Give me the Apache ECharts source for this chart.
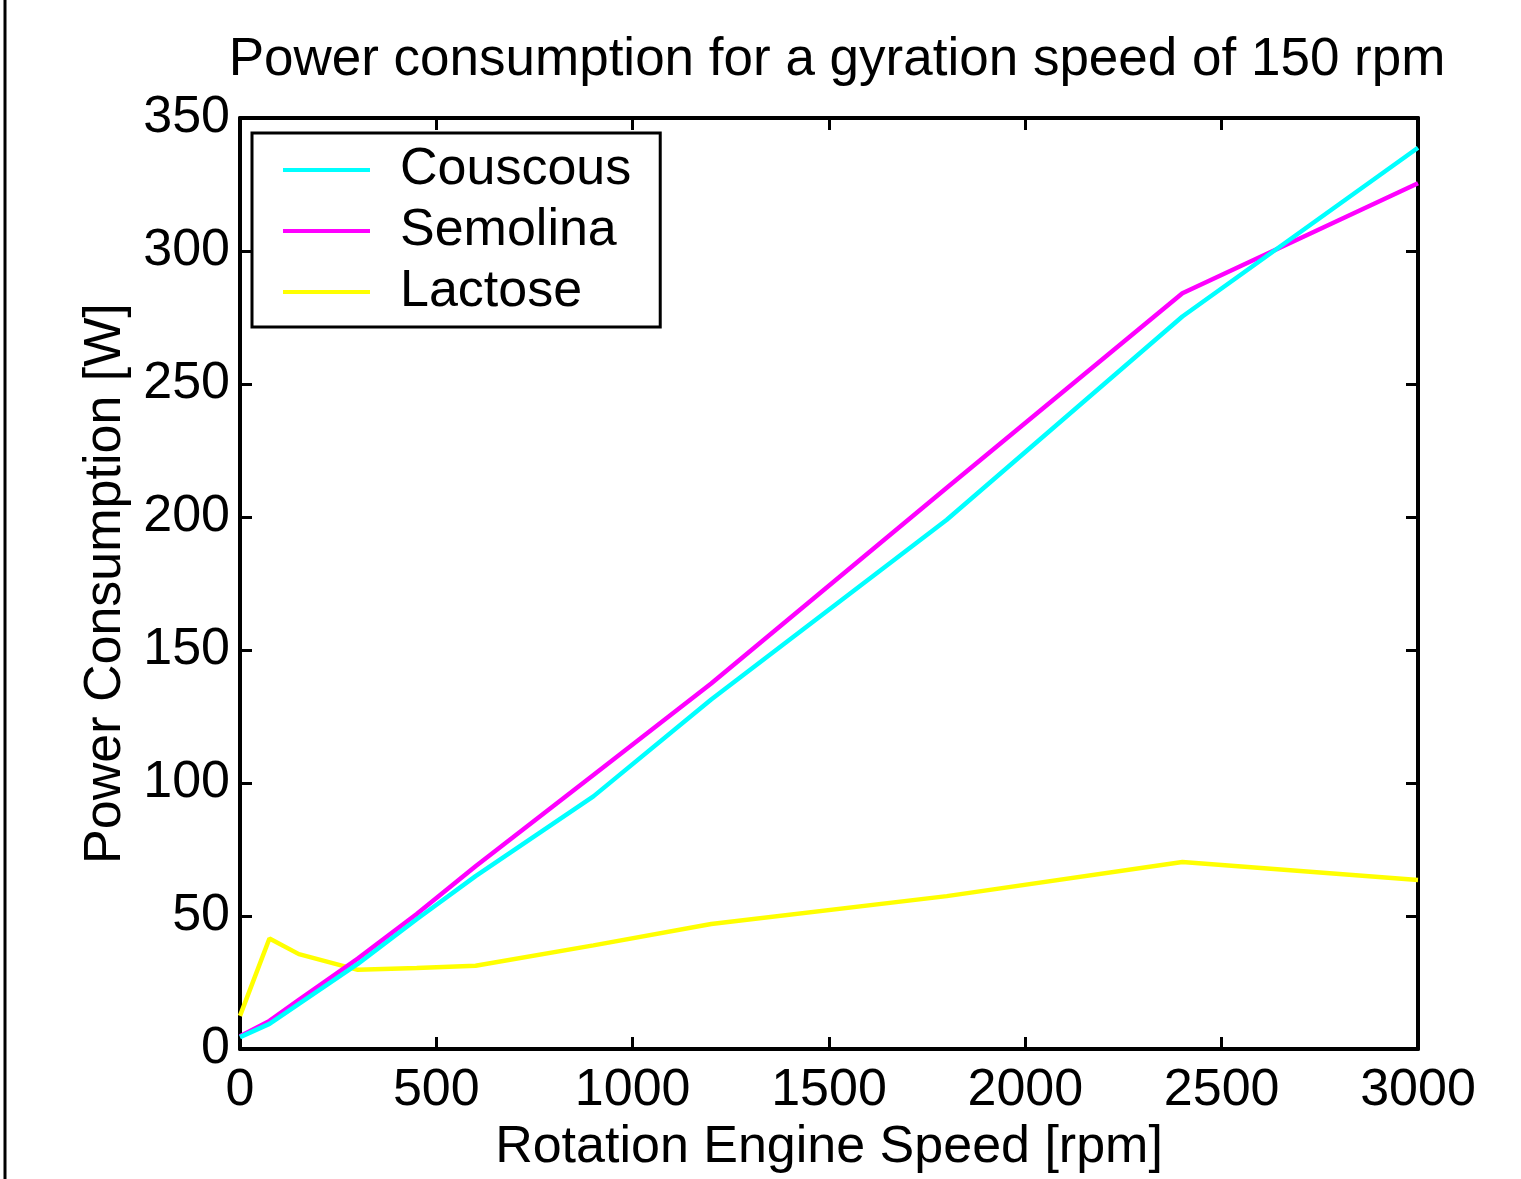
<!DOCTYPE html>
<html>
<head>
<meta charset="utf-8">
<script src="https://cdn.jsdelivr.net/npm/echarts@6/dist/echarts.min.js"></script>
<style>
html,body{margin:0;padding:0;background:#fff;}
#c{width:1521px;height:1179px;}
</style>
</head>
<body>
<div id="c"></div>
<script>
const titleText = 'Power consumption for a gyration speed of 150 rpm';
const xName = 'Rotation Engine Speed [rpm]';
const yName = 'Power Consumption [W]';
const seriesNames = ['Couscous', 'Semolina', 'Lactose'];
const seriesColors = ['#00FFFF', '#FF00FF', '#FFFF00'];
const speeds = [0, 75, 150, 300, 450, 600, 900, 1200, 1800, 2400, 3000];
const couscous = [4.5, 9.5, 17, 32, 48.8, 65, 95, 131.4, 199, 275.4, 338.8];
const semolina = [4.8, 10.6, 18.5, 34, 50.8, 68.7, 103, 137.4, 211, 284.1, 325.5];
const lactose = [12.5, 41.6, 35.7, 29.8, 30.5, 31.3, 39, 47, 57.5, 70.3, 63.6];

const values = [couscous, semolina, lactose];
const font = 'Liberation Sans, Arial, sans-serif';
const fs = 52;

const chart = echarts.init(document.getElementById('c'), null, {renderer: 'canvas'});
const axisLine = {show: true, onZero: false, lineStyle: {color: '#000', width: 4}};
const tick = {show: true, inside: true, length: 12, lineStyle: {color: '#000', width: 3}};
chart.setOption({
  backgroundColor: '#fff',
  animation: false,
  title: {
    text: titleText, left: 832, top: 29, textAlign: 'center',
    textStyle: {fontFamily: font, fontSize: 53, fontWeight: 'normal', color: '#000'}
  },
  grid: {left: 240, right: 103, top: 118, bottom: 129, containLabel: false},
  legend: {
    orient: 'vertical', left: 252, top: 133,
    data: seriesNames,
    icon: 'rect', itemWidth: 87, itemHeight: 4, itemGap: 9,
    padding: [11, 29, 9, 31],
    borderColor: '#000', borderWidth: 3, backgroundColor: '#fff',
    textStyle: {fontFamily: font, fontSize: fs, color: '#000', padding: [0, 0, 0, 25]}
  },
  xAxis: [{
    type: 'value', min: 0, max: 3000, interval: 500,
    name: xName, nameLocation: 'middle', nameGap: 66,
    nameTextStyle: {fontFamily: font, fontSize: fs, color: '#000'},
    axisLine: axisLine, axisTick: tick,
    axisLabel: {fontFamily: font, fontSize: fs, color: '#000', margin: 16,
      formatter: v => String(v)},
    splitLine: {show: false}
  }, {
    type: 'value', min: 0, max: 3000, interval: 500, position: 'top',
    axisLine: axisLine, axisTick: tick,
    axisLabel: {show: false}, splitLine: {show: false}
  }],
  yAxis: [{
    type: 'value', min: 0, max: 350, interval: 50,
    name: yName, nameLocation: 'middle', nameGap: 108, nameRotate: 90,
    nameTextStyle: {fontFamily: font, fontSize: fs, color: '#000'},
    axisLine: axisLine, axisTick: tick,
    axisLabel: {fontFamily: font, fontSize: fs, color: '#000', margin: 10,
      formatter: v => String(v)},
    splitLine: {show: false}
  }, {
    type: 'value', min: 0, max: 350, interval: 50, position: 'right',
    axisLine: axisLine, axisTick: tick,
    axisLabel: {show: false}, splitLine: {show: false}
  }],
  series: seriesNames.map((n, i) => ({
    name: n, type: 'line', color: seriesColors[i],
    data: speeds.map((s, j) => [s, values[i][j]]),
    showSymbol: false, symbol: 'none',
    lineStyle: {width: 4.5, color: seriesColors[i]},
    z: 3 - i
  })),
  graphic: [{
    type: 'line', shape: {x1: 5, y1: 0, x2: 5, y2: 1179},
    style: {stroke: '#000', lineWidth: 3}
  }]
});
</script>
</body>
</html>
